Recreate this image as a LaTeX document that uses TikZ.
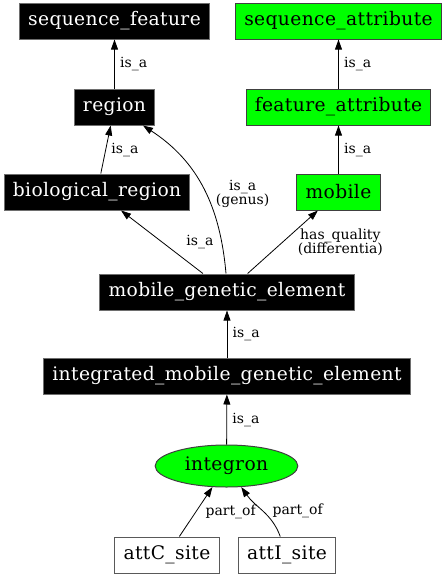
\documentclass[tikz,border=0pt]{standalone}
\usepackage{fontspec}
\setmainfont{DejaVu Serif}
\usetikzlibrary{arrows.meta,shapes.geometric}
\definecolor{termgreen}{RGB}{0,255,0}
\definecolor{rimgray}{RGB}{110,110,110}

\begin{document}
\begin{tikzpicture}[x=0.75pt,y=0.75pt,
  term/.style={draw=rimgray,line width=0.75pt,fill=black,text=white,font=\fontsize{14}{16}\selectfont\addfontfeatures{LetterSpace=2},inner xsep=6.5pt,inner ysep=0pt,minimum height=27pt},
  gterm/.style={term,draw=black!75,fill=termgreen,text=black},
  wterm/.style={term,draw=black!65,fill=white,text=black},
  lbl/.style={font=\fontsize{10.5}{10.5}\selectfont,align=center,inner sep=1pt},
  arr/.style={-{Triangle[length=7.5pt,width=5.2pt]},line width=0.6pt}]
\useasboundingbox (0,0) rectangle (447,-576);
\node[term] (seqfeat) at (114.5,-21) {sequence\_feature};
\node[gterm] (seqattr) at (338.5,-21) {sequence\_attribute};
\node[term] (region) at (114.5,-107) {region};
\node[gterm] (featattr) at (338.5,-107) {feature\_attribute};
\node[term] (bioreg) at (97,-192) {biological\_region};
\node[gterm] (mobile) at (338.5,-192) {mobile};
\node[term] (mge) at (227,-292) {mobile\_genetic\_element};
\node[term] (imge) at (227,-376) {integrated\_mobile\_genetic\_element};
\node[gterm,ellipse,inner sep=0pt,minimum width=107pt,minimum height=31.5pt] (integron) at (226.5,-466) {integron};
\node[wterm] (attc) at (167,-555) {attC\_site};
\node[wterm] (atti) at (287,-555) {attI\_site};
\draw[arr] (region) -- node[lbl,right=3pt] {is\_a} (seqfeat);
\draw[arr] (featattr) -- node[lbl,right=3pt] {is\_a} (seqattr);
\draw[arr] (bioreg) -- node[lbl,right=3pt] {is\_a} (region);
\draw[arr] (mobile) -- node[lbl,right=3pt] {is\_a} (featattr);
\draw[arr] (mge.north -| 226,0) to[out=95,in=-33] node[lbl,pos=0.46,right=6pt] {is\_a\\(genus)} (region);
\draw[arr] (mge) -- node[lbl,right=17pt] {is\_a} (bioreg);
\draw[arr] (mge) -- node[lbl,right=10pt] {has\_quality\\(differentia)} (mobile);
\draw[arr] (imge) -- node[lbl,right=3pt] {is\_a} (mge);
\draw[arr] (integron) -- node[lbl,right=3pt] {is\_a} (imge);
\draw[arr] (attc) -- node[lbl,right=6pt] {part\_of} (integron);
\draw[arr] (atti) to[out=110,in=-55] node[lbl,right=6pt] {part\_of} (integron);
\end{tikzpicture}
\end{document}
